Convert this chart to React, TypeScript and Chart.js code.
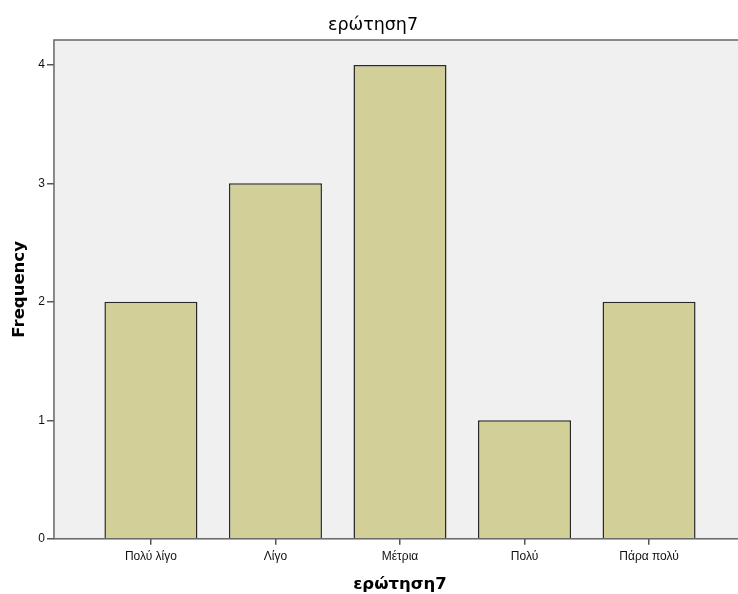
import React, { useEffect, useRef } from "react";
import { Chart, registerables } from "chart.js";

Chart.register(...registerables);

const categories = ["Πολύ λίγο", "Λίγο", "Μέτρια", "Πολύ", "Πάρα πολύ"];
const frequencies = [2, 3, 4, 1, 2];
const yTicks = [0, 1, 2, 3, 4];

const plotFrame = {
  id: "plotFrame",
  beforeDatasetsDraw(chart: any) {
    const { ctx, chartArea: a } = chart;
    ctx.save();
    ctx.fillStyle = "#F0F0F0";
    ctx.fillRect(a.left, a.top, a.right - a.left, a.bottom - a.top);
    ctx.restore();
  },
  afterDatasetsDraw(chart: any) {
    const { ctx, chartArea: a } = chart;
    ctx.save();
    ctx.strokeStyle = "#666666";
    ctx.lineWidth = 1.5;
    ctx.strokeRect(a.left, a.top, a.right - a.left, a.bottom - a.top);
    ctx.restore();
  },
};

export default function App() {
  const ref = useRef<HTMLCanvasElement | null>(null);
  useEffect(() => {
    if (!ref.current) return;
    const font = "'Liberation Sans', Arial, sans-serif";
    const bold = "'DejaVu Sans', sans-serif";
    const chart = new Chart(ref.current, {
      type: "bar",
      data: {
        datasets: [
          {
            data: frequencies.map((v, i) => ({ x: i, y: v })),
            backgroundColor: "#D3CF98",
            borderColor: "#2A2A2A",
            borderWidth: 1.5,
            barPercentage: 0.747,
            categoryPercentage: 1,
          },
        ],
      },
      options: {
        responsive: false,
        animation: false,
        layout: { padding: { left: 0, right: 0, top: 0, bottom: -1 } },
        plugins: {
          legend: { display: false },
          tooltip: { enabled: false },
          title: {
            display: true,
            text: "ερώτηση7",
            color: "#000",
            font: { family: bold, size: 17.5, weight: "normal" },
            padding: { top: 15, bottom: 4 },
          },
        },
        scales: {
          x: {
            type: "linear",
            min: -0.7785,
            max: 4.7785,
            offset: false,
            afterBuildTicks(scale: any) {
              scale.ticks = categories.map((_, i) => ({ value: i }));
            },
            grid: {
              display: true,
              offset: false,
              drawOnChartArea: false,
              drawTicks: true,
              tickLength: 6,
              color: "#555",
              lineWidth: 1.5,
            },
            border: { display: false },
            ticks: {
              color: "#111",
              font: { family: font, size: 12 },
              padding: 5,
              maxRotation: 0,
              autoSkip: false,
              callback: (v: any) => categories[Math.round(Number(v))] ?? "",
            },
            title: {
              display: true,
              text: "ερώτηση7",
              color: "#000",
              font: { family: bold, size: 16.5, weight: "bold" },
              padding: { top: 6, bottom: 0 },
            },
          },
          y: {
            min: 0,
            max: 4.21,
            afterBuildTicks(scale: any) {
              scale.ticks = yTicks.map((v) => ({ value: v }));
            },
            grid: {
              display: true,
              drawOnChartArea: false,
              drawTicks: true,
              tickLength: 7,
              color: "#555",
              lineWidth: 1.5,
            },
            border: { display: false },
            ticks: {
              color: "#111",
              font: { family: font, size: 12 },
              padding: 2,
            },
            title: {
              display: true,
              text: "Frequency",
              color: "#000",
              font: { family: bold, size: 16.5, weight: "bold" },
              padding: { top: 10, bottom: 6.5 },
            },
          },
        },
      },
      plugins: [plotFrame],
    });
    return () => chart.destroy();
  }, []);

  return (
    <div
      style={{
        position: "absolute",
        left: 0,
        top: 0,
        width: 738,
        height: 594,
        overflow: "hidden",
        background: "#fff",
      }}
    >
      <canvas ref={ref} width={746} height={594} style={{ display: "block" }} />
    </div>
  );
}
